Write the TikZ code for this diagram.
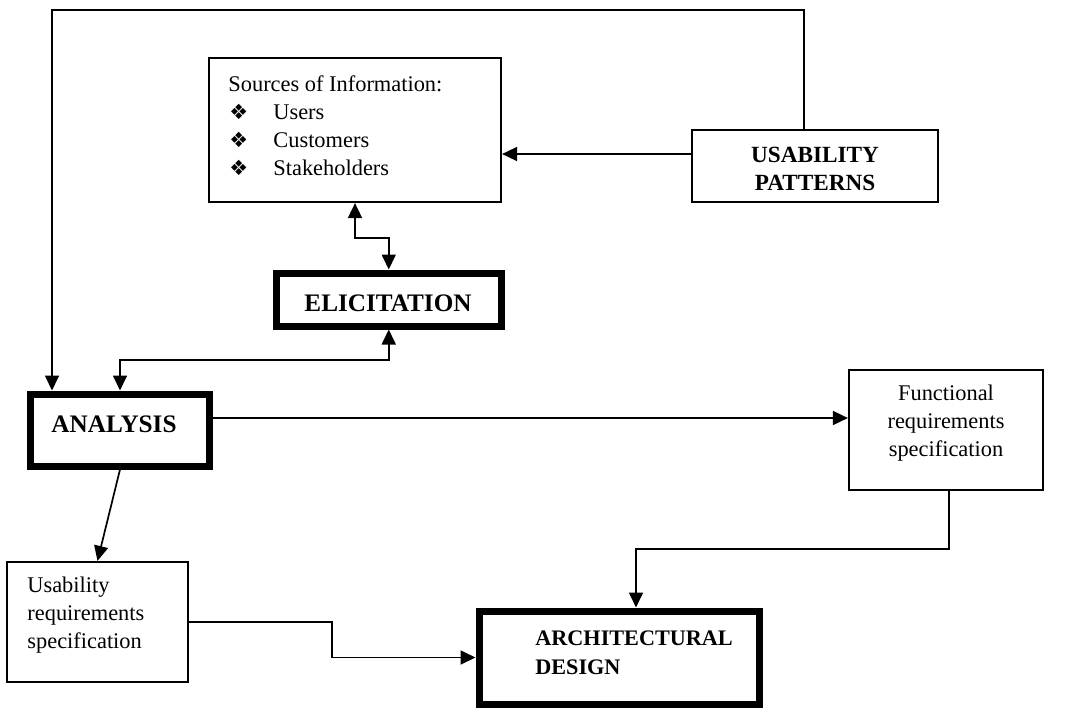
\documentclass[tikz,border=0pt]{standalone}
\usepackage{fontspec}
\setmainfont{Liberation Serif}
\newfontfamily\dejavu{DejaVu Sans}
\usetikzlibrary{arrows.meta}
\newcommand{\bul}{\makebox[22.5pt][l]{\hspace{0.5pt}{\dejavu\fontsize{10.5}{14}\selectfont ❖}}}
\begin{document}
\begin{tikzpicture}[x=0.5pt,y=-0.5pt,
  thinbox/.style={draw,line width=1.1pt,inner sep=0pt},
  thickbox/.style={draw,line width=3.5pt,inner sep=0pt},
  txt/.style={inner sep=0pt,font=\fontsize{11.2}{14}\selectfont},
  btxt/.style={inner sep=0pt,font=\fontsize{11.6}{14.2}\selectfont\bfseries},
  conn/.style={line width=0.85pt,-{Triangle[length=7.5pt,width=7pt]}},
  conn2/.style={line width=0.85pt,{Triangle[length=7.5pt,width=7pt]}-{Triangle[length=7.5pt,width=7pt]}}
]
\path[use as bounding box] (0,0) rectangle (1080,707);
% boxes
\node[thinbox,minimum width=146pt,minimum height=72pt] (src) at (355,130) {};
\node[thinbox,minimum width=123pt,minimum height=36pt] (up) at (815,166) {};
\node[thickbox,minimum width=112.25pt,minimum height=26.5pt] (elic) at (388.75,299.5) {};
\node[thickbox,minimum width=89.75pt,minimum height=36pt] (ana) at (120,430) {};
\node[thinbox,minimum width=97pt,minimum height=60pt] (func) at (946,430) {};
\node[thinbox,minimum width=90.5pt,minimum height=60pt] (usr) at (97.5,622) {};
\node[thickbox,minimum width=140pt,minimum height=46.5pt] (arch) at (619,657.5) {};
% texts
\node[txt,anchor=west,align=left] (srct) at (228,126) {Sources of Information:\\ \bul Users\\ \bul Customers\\ \bul Stakeholders};
\node[btxt,align=center] (upt) at (815,169) {USABILITY\\PATTERNS};
\node[btxt,font=\fontsize{12.6}{14}\selectfont\bfseries] (elict) at (388,303) {ELICITATION};
\node[btxt,font=\fontsize{12.6}{14}\selectfont\bfseries] (anat) at (114,424) {ANALYSIS};
\node[txt,align=center] (funct) at (946,423.5) {Functional\\requirements\\specification};
\node[txt,anchor=west,align=left] (usrt) at (27,615) {Usability\\requirements\\specification};
\node[btxt,anchor=west,align=left,font=\fontsize{11.1}{14.5}\selectfont\bfseries] (archt) at (535,652.5) {ARCHITECTURAL\\DESIGN};
% helper coordinates
\coordinate (c1) at (804,10);
\coordinate (c2) at (52,10);
\coordinate (c3) at (372,238);
\coordinate (c4) at (250,360);
\coordinate (c5) at (332,640);
\coordinate (c6) at (800,549);
% connectors
\draw[conn] ([xshift=-5.5pt]up.north) -- (c1) -- (c2) -- (c2 |- ana.north);
\draw[conn] ([yshift=6pt]up.west) -- ([yshift=6pt]up.west -| src.east);
\draw[conn2] (src.south) |- (c3) -| (elic.north);
\draw[conn2] (elic.south) |- (c4) -| (ana.north);
\draw[conn] ([yshift=6pt]ana.east) -- ([yshift=6pt]ana.east -| func.west);
\draw[conn] (ana.south) -- (usr.north);
\draw[conn] (usr.east) -| (c5) |- (arch.west);
\draw[conn] ([xshift=1.5pt]func.south) |- (c6) -| ([xshift=8.5pt]arch.north);
\end{tikzpicture}
\end{document}
